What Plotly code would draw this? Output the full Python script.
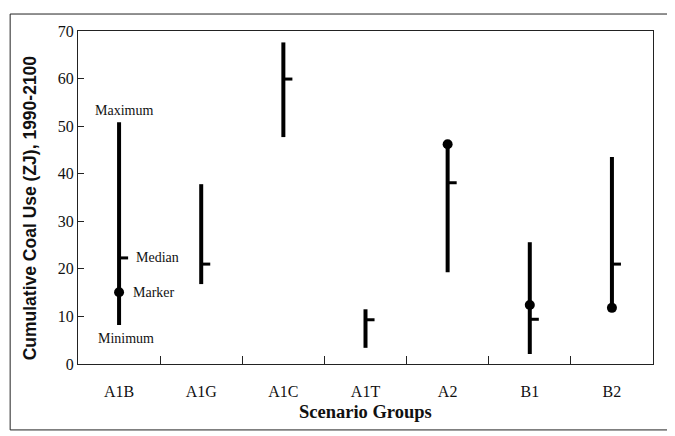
import plotly.graph_objects as go

groups = ["A1B", "A1G", "A1C", "A1T", "A2", "B1", "B2"]
minimum = [8.2, 16.8, 47.7, 3.4, 19.3, 2.1, 11.8]
maximum = [50.8, 37.8, 67.6, 11.5, 46.2, 25.6, 43.5]
median = [22.3, 21.0, 59.9, 9.3, 38.1, 9.4, 21.0]
marker = [15.1, None, None, None, 46.2, 12.4, 11.8]

FONT = "Liberation Serif, Times New Roman, serif"
idx = list(range(len(groups)))

fig = go.Figure()
for i in idx:
    fig.add_trace(go.Scatter(x=[i, i], y=[minimum[i], maximum[i]], mode="lines",
                             line=dict(color="black", width=4), showlegend=False, hoverinfo="skip"))
    fig.add_trace(go.Scatter(x=[i, i + 0.11], y=[median[i], median[i]], mode="lines",
                             line=dict(color="black", width=3), showlegend=False, hoverinfo="skip"))
mx = [i for i in idx if marker[i] is not None]
fig.add_trace(go.Scatter(x=mx, y=[marker[i] for i in mx], mode="markers",
                         marker=dict(color="black", size=10), showlegend=False))

ann_font = dict(family=FONT, size=14, color="#111")
fig.add_annotation(x=0, y=maximum[0], text="Maximum", showarrow=False, yanchor="bottom",
                   yshift=2, xshift=5, font=ann_font)
fig.add_annotation(x=0.18, y=median[0], text="Median", showarrow=False, xanchor="left",
                   font=ann_font)
fig.add_annotation(x=0.14, y=marker[0], text="Marker", showarrow=False, xanchor="left",
                   font=ann_font)
fig.add_annotation(x=0, y=minimum[0], text="Minimum", showarrow=False, yanchor="top",
                   yshift=-4, xshift=7, font=ann_font)

fig.add_annotation(xref="paper", yref="paper", x=-0.082, y=0.47, xanchor="center",
                   yanchor="middle",
                   text="<b>Cumulative Coal Use (ZJ), 1990-2100</b>", textangle=-90,
                   showarrow=False,
                   font=dict(family="Liberation Sans, Arial, sans-serif", size=17.5, color="#111"))
fig.add_annotation(xref="paper", yref="paper", x=0.5, y=-0.144, xanchor="center",
                   yanchor="middle",
                   text="<b>Scenario Groups</b>", showarrow=False,
                   font=dict(family=FONT, size=18.5, color="#111"))

fig.add_shape(type="rect", xref="paper", yref="paper", x0=-0.118, x1=1.035, y0=-0.198, y1=1.051,
              line=dict(color="#222", width=1))

fig.update_xaxes(range=[-0.5, 6.5], tickmode="array", tickvals=idx, ticktext=groups,
                 ticks="", showline=True, mirror=True, linecolor="#222", linewidth=1,
                 showgrid=False, zeroline=False, ticklabelstandoff=13, automargin=False,
                 tickfont=dict(family=FONT, size=16, color="#111"),
                 minor=dict(tickmode="array", tickvals=[i + 0.5 for i in idx[:-1]],
                            ticks="inside", ticklen=8, tickcolor="#222", showgrid=False))
fig.update_yaxes(range=[0, 70], tickmode="array", tickvals=list(range(0, 71, 10)),
                 ticks="inside", ticklen=6, tickcolor="#222", showline=True, mirror=True,
                 linecolor="#222", linewidth=1, showgrid=False, zeroline=False, automargin=False,
                 tickfont=dict(family=FONT, size=16, color="#111"))
# page body has an 8px margin, so the figure is sized/offset to compensate
fig.update_layout(width=667, height=428, margin=dict(l=70, r=22, t=23, b=72),
                  plot_bgcolor="white", paper_bgcolor="white")
fig.write_html("out.html")
